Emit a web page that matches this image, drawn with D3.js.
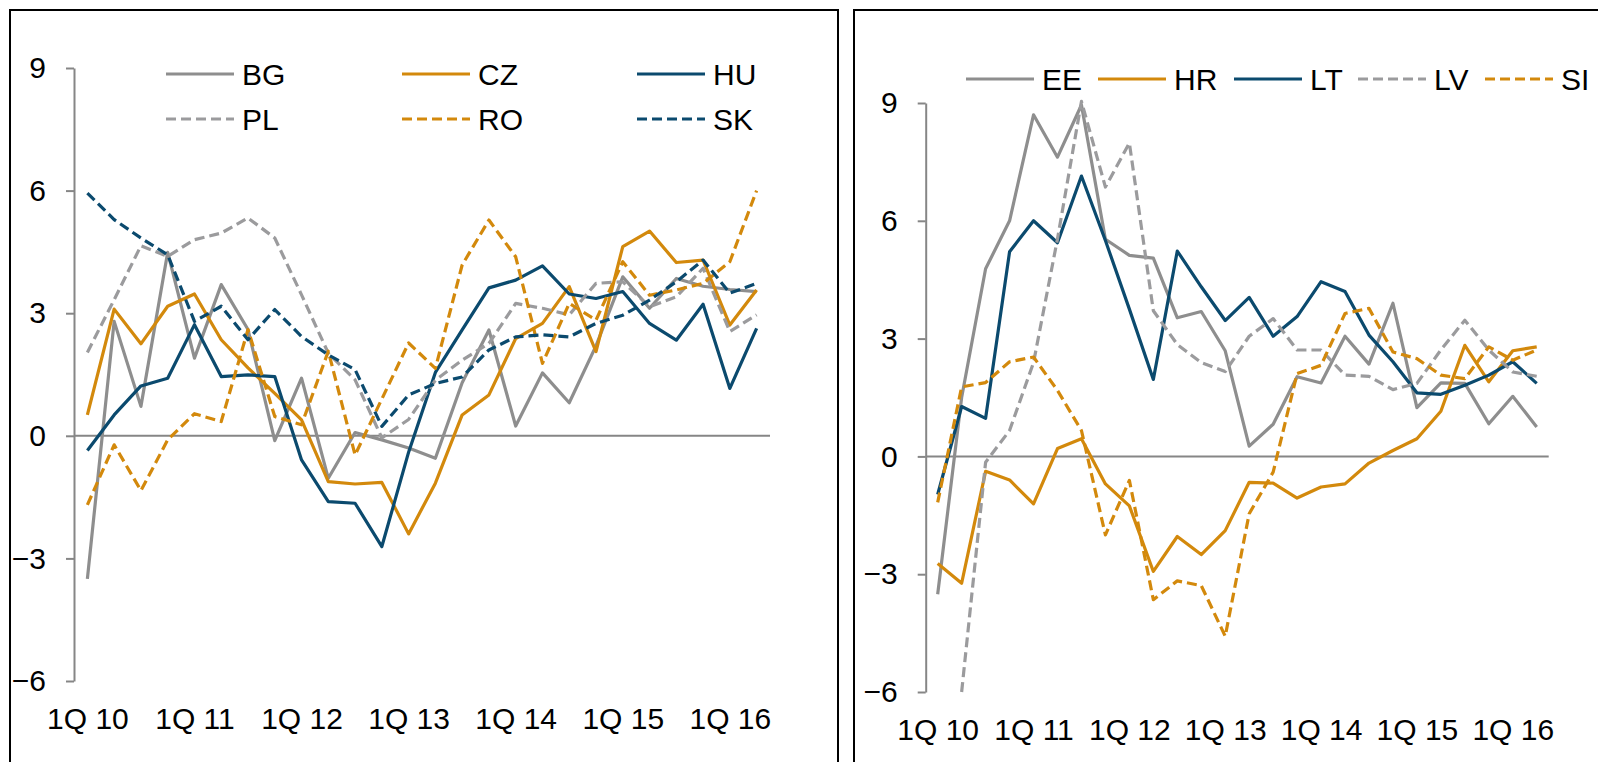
<!DOCTYPE html>
<html>
<head>
<meta charset="utf-8">
<script src="https://cdnjs.cloudflare.com/ajax/libs/d3/7.8.5/d3.min.js"></script>
<style>
  body { margin: 0; background: #fff; }
  svg { display: block; }
  text { font-family: "Liberation Sans", Arial, sans-serif; fill: #000; }
</style>
</head>
<body>
<svg width="1598" height="762"></svg>
<script>
// quarters 1Q 10 .. 2Q 16
var quarters = ["1Q 10","2Q 10","3Q 10","4Q 10","1Q 11","2Q 11","3Q 11","4Q 11",
                "1Q 12","2Q 12","3Q 12","4Q 12","1Q 13","2Q 13","3Q 13","4Q 13",
                "1Q 14","2Q 14","3Q 14","4Q 14","1Q 15","2Q 15","3Q 15","4Q 15",
                "1Q 16","2Q 16"];
var tickQuarters = ["1Q 10","1Q 11","1Q 12","1Q 13","1Q 14","1Q 15","1Q 16"];
var yTicks = [-6, -3, 0, 3, 6, 9];

// left panel
var BG = [-3.5, 2.8, 0.72, 4.49, 1.9, 3.7, 2.6, -0.12, 1.41, -1.04, 0.08, -0.1, -0.3, -0.55, 1.3, 2.59, 0.24, 1.54, 0.81, 2.2, 3.89, 3.12, 3.85, 3.66, 3.58, 3.53];
var CZ = [0.51, 3.1, 2.25, 3.17, 3.47, 2.35, 1.66, 1.04, 0.39, -1.12, -1.18, -1.14, -2.4, -1.16, 0.51, 1.0, 2.38, 2.75, 3.65, 2.06, 4.63, 5.01, 4.24, 4.3, 2.71, 3.57];
var HU = [-0.36, 0.51, 1.22, 1.41, 2.72, 1.45, 1.49, 1.45, -0.59, -1.61, -1.65, -2.71, -0.4, 1.55, 2.59, 3.62, 3.81, 4.16, 3.47, 3.36, 3.53, 2.75, 2.34, 3.22, 1.16, 2.63];
var PL = [2.04, 3.33, 4.65, 4.39, 4.8, 4.96, 5.33, 4.84, 3.45, 2.02, 1.37, -0.05, 0.4, 1.36, 1.85, 2.26, 3.24, 3.12, 2.96, 3.73, 3.77, 3.16, 3.4, 4.1, 2.55, 2.96];
var RO = [-1.69, -0.22, -1.34, -0.1, 0.54, 0.35, 2.6, 0.47, 0.27, 2.07, -0.47, 0.9, 2.27, 1.65, 4.18, 5.28, 4.38, 1.77, 3.24, 2.83, 4.26, 3.44, 3.57, 3.73, 4.26, 6.0];
var SK = [5.94, 5.29, 4.84, 4.43, 2.8, 3.17, 2.35, 3.09, 2.43, 1.98, 1.62, 0.23, 1.0, 1.28, 1.44, 2.1, 2.42, 2.47, 2.42, 2.75, 2.95, 3.32, 3.77, 4.3, 3.49, 3.73];

// right panel
var EE = [-3.51, 1.5, 4.78, 6.0, 8.7, 7.62, 8.95, 5.53, 5.12, 5.05, 3.53, 3.69, 2.69, 0.26, 0.82, 2.03, 1.87, 3.06, 2.35, 3.9, 1.24, 1.87, 1.86, 0.83, 1.53, 0.75];
var HR = [-2.73, -3.23, -0.38, -0.6, -1.21, 0.2, 0.45, -0.7, -1.26, -2.93, -2.04, -2.5, -1.89, -0.66, -0.68, -1.06, -0.78, -0.7, -0.17, 0.15, 0.45, 1.15, 2.83, 1.9, 2.69, 2.79];
var LT = [-0.97, 1.27, 0.97, 5.21, 6.0, 5.44, 7.14, 5.5, 3.75, 1.96, 5.23, 4.32, 3.46, 4.05, 3.06, 3.56, 4.45, 4.2, 3.09, 2.41, 1.62, 1.58, 1.81, 2.07, 2.41, 1.86];
var LV = [null, -6.0, -0.15, 0.66, 2.39, 5.54, 9.04, 6.86, 7.98, 3.71, 2.85, 2.39, 2.16, 3.06, 3.51, 2.71, 2.71, 2.07, 2.04, 1.7, 1.86, 2.71, 3.47, 2.71, 2.15, 2.04];
var SI = [-1.17, 1.77, 1.88, 2.41, 2.53, 1.68, 0.66, -2.0, -0.61, -3.65, -3.17, -3.29, -4.58, -1.46, -0.4, 2.11, 2.32, 3.64, 3.77, 2.66, 2.49, 2.07, 1.98, 2.79, 2.45, 2.71];

var GREY = "#8e8e8e", GREY_D = "#9b9b9d", ORANGE = "#d3890c", NAVY = "#0b4a6e";
var AXIS = "#868686";

var svg = d3.select("svg");

// panel frames
svg.append("rect").attr("x", 10).attr("y", 10).attr("width", 828).attr("height", 800)
    .attr("fill", "none").attr("stroke", "#000").attr("stroke-width", 2);
svg.append("rect").attr("x", 854).attr("y", 10).attr("width", 800).attr("height", 800)
    .attr("fill", "none").attr("stroke", "#000").attr("stroke-width", 2);

function drawPanel(p) {
    var x = d3.scalePoint().domain(quarters).range(p.xRange).padding(0.5);
    var y = d3.scaleLinear().domain([-6, 9]).range(p.yRange);
    var g = svg.append("g");

    // y axis
    var ya = g.append("g")
        .attr("transform", "translate(" + p.xRange[0] + ",0)")
        .call(d3.axisLeft(y).tickValues(yTicks).tickSize(8).tickSizeOuter(0).tickPadding(20).tickFormat(d3.format("d")));
    ya.select(".domain").attr("stroke", AXIS).attr("stroke-width", 2);
    ya.selectAll(".tick line").attr("stroke", AXIS).attr("stroke-width", 2);
    ya.selectAll(".tick text").style("font-size", "30px").attr("fill", "#000");

    // zero line
    g.append("line")
        .attr("x1", p.xRange[0]).attr("x2", p.xRange[1])
        .attr("y1", y(0)).attr("y2", y(0))
        .attr("stroke", AXIS).attr("stroke-width", 2);

    // x labels
    var xa = g.append("g")
        .attr("transform", "translate(0," + p.yRange[0] + ")")
        .call(d3.axisBottom(x).tickValues(tickQuarters).tickSize(0).tickPadding(p.xPad));
    xa.select(".domain").remove();
    xa.selectAll(".tick text").style("font-size", "30px").attr("fill", "#000");

    var line = d3.line()
        .defined(function(d) { return d != null; })
        .x(function(d, i) { return x(quarters[i]); })
        .y(function(d) { return y(d); });

    p.series.forEach(function(s) {
        g.append("path")
            .datum(s.values)
            .attr("d", line)
            .attr("fill", "none")
            .attr("stroke", s.color)
            .attr("stroke-width", 3.2)
            .attr("stroke-linejoin", "round")
            .attr("stroke-dasharray", s.dash ? "10,5" : null);
    });

    // legend
    p.series.forEach(function(s, i) {
        var lx = p.legendX[i], ly = p.legendY[i];
        g.append("line")
            .attr("x1", lx).attr("x2", lx + 68)
            .attr("y1", ly).attr("y2", ly)
            .attr("stroke", s.color).attr("stroke-width", 3.2)
            .attr("stroke-dasharray", s.dash ? "10,5" : null);
        g.append("text")
            .attr("x", lx + 76).attr("y", ly)
            .attr("dy", "0.36em")
            .style("font-size", "30px")
            .text(s.name);
    });
}

drawPanel({
    xRange: [74, 770],
    yRange: [681, 68],
    xPad: 27,
    series: [
        {name: "BG", values: BG, color: GREY, dash: false},
        {name: "CZ", values: CZ, color: ORANGE, dash: false},
        {name: "HU", values: HU, color: NAVY, dash: false},
        {name: "PL", values: PL, color: GREY_D, dash: true},
        {name: "RO", values: RO, color: ORANGE, dash: true},
        {name: "SK", values: SK, color: NAVY, dash: true}
    ],
    legendX: [166, 402, 637, 166, 402, 637],
    legendY: [74, 74, 74, 119, 119, 119]
});

drawPanel({
    xRange: [925.7, 1548.7],
    yRange: [692, 103],
    xPad: 27,
    series: [
        {name: "EE", values: EE, color: GREY, dash: false},
        {name: "HR", values: HR, color: ORANGE, dash: false},
        {name: "LT", values: LT, color: NAVY, dash: false},
        {name: "LV", values: LV, color: GREY_D, dash: true},
        {name: "SI", values: SI, color: ORANGE, dash: true}
    ],
    legendX: [966, 1098, 1234, 1358, 1485],
    legendY: [79, 79, 79, 79, 79]
});
</script>
</body>
</html>
